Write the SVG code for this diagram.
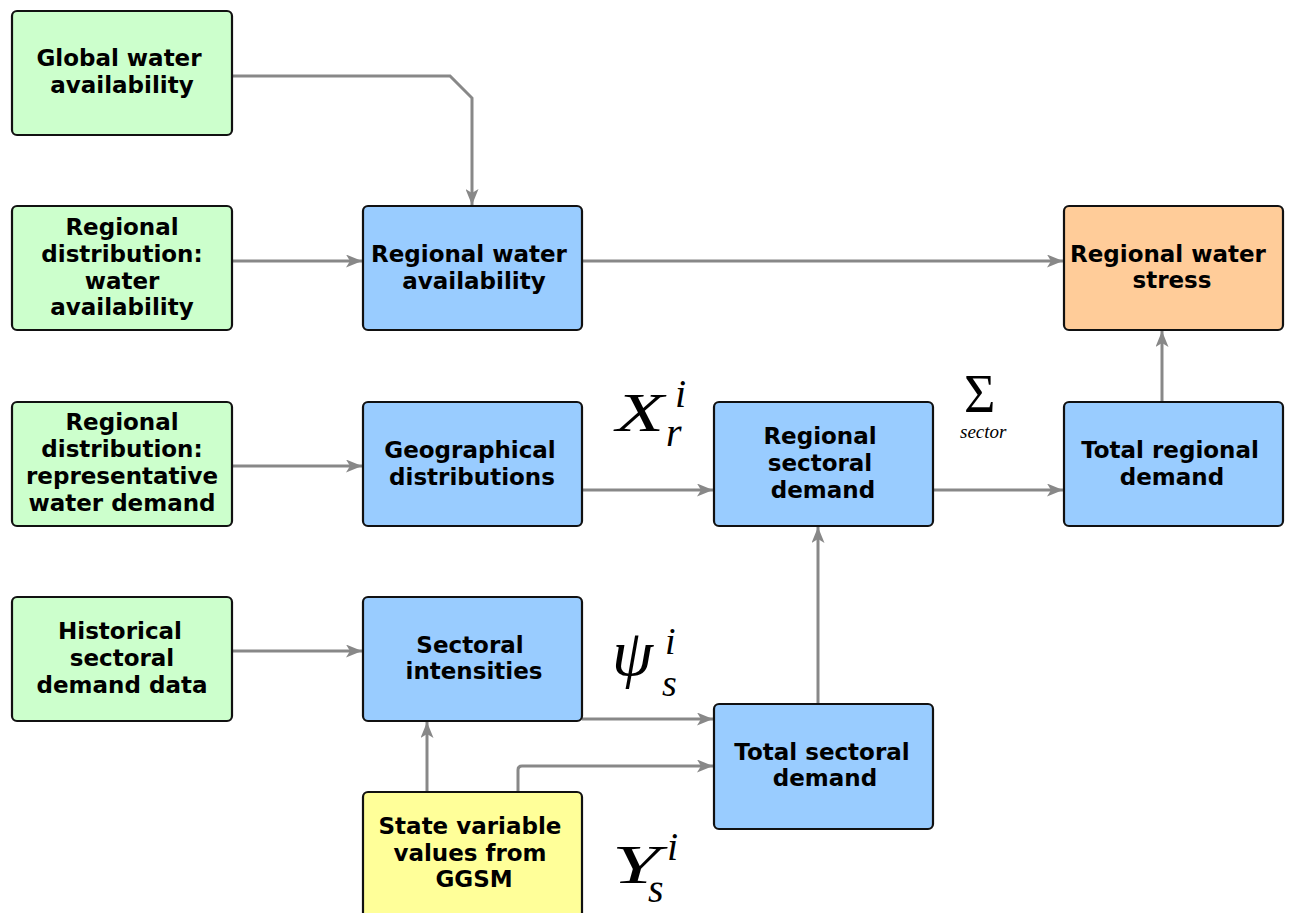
<svg xmlns="http://www.w3.org/2000/svg" width="1290" height="913" viewBox="0 0 1290 913">
<defs>
<marker id="ah" markerWidth="17" markerHeight="13" refX="16" refY="6.5" orient="auto" markerUnits="userSpaceOnUse">
<path d="M0,0 L16,6.5 L0,13 L4,6.5 z" fill="#888"/>
</marker>
<style>
.box{stroke:#111;stroke-width:2.2}
.g{fill:#ccffcc}.b{fill:#99ccff}.o{fill:#ffcc99}.y{fill:#ffff99}
.t{font-family:"DejaVu Sans",sans-serif;font-weight:bold;font-size:23px;fill:#000;text-anchor:middle}
.c{fill:none;stroke:#888;stroke-width:3}
.m{font-family:"Liberation Serif",serif;font-style:italic;fill:#000}
</style>
</defs>
<rect width="1290" height="913" fill="#fff"/>
<g id="connectors">
<path class="c" d="M232,76 L450,76 L472,98 L472,205" marker-end="url(#ah)"/>
<path class="c" d="M232,261 L362,261" marker-end="url(#ah)"/>
<path class="c" d="M582,261 L1063,261" marker-end="url(#ah)"/>
<path class="c" d="M232,466 L362,466" marker-end="url(#ah)"/>
<path class="c" d="M582,490 L713,490" marker-end="url(#ah)"/>
<path class="c" d="M933,490 L1063,490" marker-end="url(#ah)"/>
<path class="c" d="M1162,402 L1162,331" marker-end="url(#ah)"/>
<path class="c" d="M232,651 L362,651" marker-end="url(#ah)"/>
<path class="c" d="M582,719 L713,719" marker-end="url(#ah)"/>
<path class="c" d="M818,704 L818,527" marker-end="url(#ah)"/>
<path class="c" d="M427,792 L427,722" marker-end="url(#ah)"/>
<path class="c" d="M518,792 L518,770 Q518,766 522,766 L713,766" marker-end="url(#ah)"/>
</g>
<g id="global_water"><rect class="box g" x="12" y="11" width="220" height="124" rx="5"/>
<text class="t" x="119" y="66">Global water</text><text class="t" x="122" y="93">availability</text></g>
<g id="reg_dist_water"><rect class="box g" x="12" y="206" width="220" height="124" rx="5"/>
<text class="t" x="122" y="235">Regional</text><text class="t" x="122" y="262">distribution:</text><text class="t" x="122" y="289">water</text><text class="t" x="122" y="315">availability</text></g>
<g id="reg_dist_demand"><rect class="box g" x="12" y="402" width="220" height="124" rx="5"/>
<text class="t" x="122" y="430">Regional</text><text class="t" x="122" y="457">distribution:</text><text class="t" x="122" y="484">representative</text><text class="t" x="122" y="511">water demand</text></g>
<g id="historical"><rect class="box g" x="12" y="597" width="220" height="124" rx="5"/>
<text class="t" x="120" y="639">Historical</text><text class="t" x="122" y="666">sectoral</text><text class="t" x="122" y="693">demand data</text></g>
<g id="reg_water_avail"><rect class="box b" x="363" y="206" width="219" height="124" rx="5"/>
<text class="t" x="469" y="262">Regional water</text><text class="t" x="474" y="289">availability</text></g>
<g id="geo_dist"><rect class="box b" x="363" y="402" width="219" height="124" rx="5"/>
<text class="t" x="470" y="458">Geographical</text><text class="t" x="472" y="485">distributions</text></g>
<g id="sectoral_int"><rect class="box b" x="363" y="597" width="219" height="124" rx="5"/>
<text class="t" x="470" y="653">Sectoral</text><text class="t" x="474" y="679">intensities</text></g>
<g id="state_var"><rect class="box y" x="363" y="792" width="219" height="130" rx="5"/>
<text class="t" x="470" y="834">State variable</text><text class="t" x="470" y="861">values from</text><text class="t" x="474" y="887">GGSM</text></g>
<g id="reg_sect_demand"><rect class="box b" x="714" y="402" width="219" height="124" rx="5"/>
<text class="t" x="820" y="444">Regional</text><text class="t" x="820" y="471">sectoral</text><text class="t" x="823" y="498">demand</text></g>
<g id="total_sect_demand"><rect class="box b" x="714" y="704" width="219" height="125" rx="5"/>
<text class="t" x="822" y="760">Total sectoral</text><text class="t" x="825" y="786">demand</text></g>
<g id="reg_water_stress"><rect class="box o" x="1064" y="206" width="219" height="124" rx="5"/>
<text class="t" x="1168" y="262">Regional water</text><text class="t" x="1172" y="288">stress</text></g>
<g id="total_reg_demand"><rect class="box b" x="1064" y="402" width="219" height="124" rx="5"/>
<text class="t" x="1170" y="458">Total regional</text><text class="t" x="1172" y="485">demand</text></g>
<g id="math_labels">
<text class="m" x="616" y="431" font-size="55" textLength="48" lengthAdjust="spacingAndGlyphs">X</text>
<text class="m" x="675" y="407" font-size="40">i</text>
<text class="m" x="666" y="446" font-size="40">r</text>
<text x="964" y="412" font-size="54" font-family="Liberation Serif,serif" fill="#000">Σ</text>
<text class="m" x="960" y="438" font-size="19">sector</text>
<text class="m" x="612" y="675" font-size="66">ψ</text>
<text class="m" x="665" y="654" font-size="38">i</text>
<text class="m" x="662" y="696" font-size="38">s</text>
<text class="m" x="612" y="883" font-size="55" textLength="48" lengthAdjust="spacingAndGlyphs">Y</text>
<text class="m" x="667" y="860" font-size="40">i</text>
<text class="m" x="648" y="902" font-size="40">s</text>
</g>
</svg>
